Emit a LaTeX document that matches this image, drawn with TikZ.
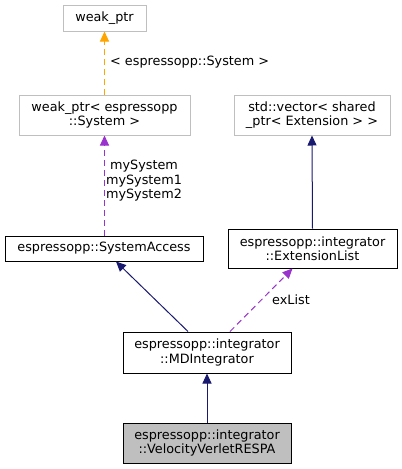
\documentclass[tikz,border=0pt]{standalone}
\usepackage{fontspec}
\setmainfont{DejaVu Sans}
\usetikzlibrary{arrows.meta,calc}
\definecolor{navy}{HTML}{191970}
\definecolor{orch}{HTML}{9A32CD}
\definecolor{orng}{HTML}{FFA500}
\definecolor{gbord}{HTML}{BFBFBF}
\definecolor{gfill}{HTML}{BFBFBF}
\tikzset{
  box/.style={draw=black, line width=1pt, inner sep=0pt, align=center, font=\fontsize{12.8}{14.5}\selectfont},
  gbox/.style={box, draw=gbord},
  inh/.style={draw=navy, line width=1pt, -{Triangle[length=10pt,width=9pt]}},
  use/.style={draw=orch, line width=1pt, dash pattern=on 6pt off 4pt, -{Triangle[length=10pt,width=9pt]}},
  tmpl/.style={draw=orng, line width=1pt, dash pattern=on 6pt off 4pt, -{Triangle[length=10pt,width=9pt]}},
  lbl/.style={inner sep=0pt, align=center, font=\fontsize{12.8}{14.5}\selectfont}
}
\begin{document}
\begin{tikzpicture}[x=1pt,y=-1pt]
\useasboundingbox (0,0) rectangle (402,469);
\node[gbox, minimum width=83pt, minimum height=26pt] (wp) at (104.5,18) {weak\_ptr};
\node[gbox, minimum width=171pt, minimum height=40pt] (wps) at (104.5,115) {weak\_ptr< espressopp\\::System >};
\node[gbox, minimum width=156pt, minimum height=40pt] (vec) at (312,115) {std::vector< shared\\\_ptr< Extension > >};
\node[box, minimum width=198pt, minimum height=25pt] (sa) at (104,248.5) {espressopp::SystemAccess};
\node[box, minimum width=169pt, minimum height=39pt] (el) at (312.5,248.5) {espressopp::integrator\\::ExtensionList};
\node[box, minimum width=168pt, minimum height=41pt] (md) at (207,352.5) {espressopp::integrator\\::MDIntegrator};
\node[box, fill=gfill, minimum width=168pt, minimum height=40pt] (vv) at (207,443) {espressopp::integrator\\::VelocityVerletRESPA};

\draw[tmpl] (wps.north) -- (wp.south);
\node[lbl, anchor=west] (l1) at (110,62) {< espressopp::System >};
\draw[use] ([xshift=0.5pt]sa.north) -- (wps.south);
\node[lbl] (l2) at (144,181) {mySystem\\mySystem1\\mySystem2};
\draw[inh] (el.north) -- (vec.south);
\draw[inh] ([xshift=-19pt]md.north) -- ([xshift=12pt]sa.south);
\draw[use] ([xshift=23pt]md.north) -- ([xshift=-20pt]el.south);
\node[lbl] (l3) at (291,300) {exList};
\draw[inh] (vv.north) -- (md.south);
\end{tikzpicture}
\end{document}
